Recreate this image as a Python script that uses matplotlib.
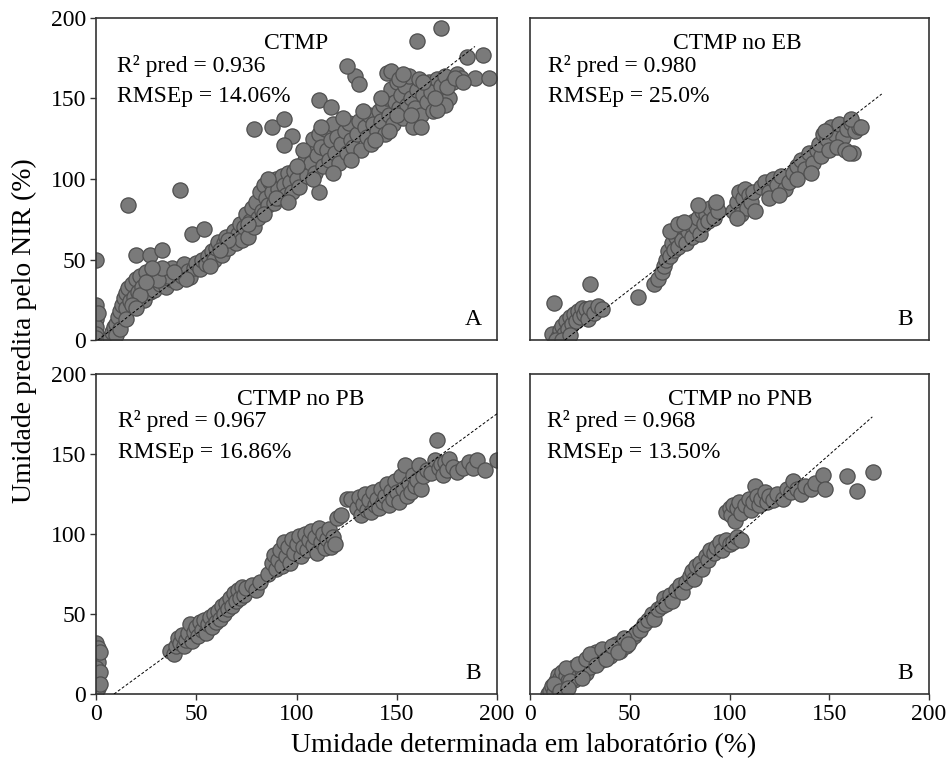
import numpy as np
import matplotlib
matplotlib.use("Agg")
import matplotlib.pyplot as plt

plt.rcParams["font.family"] = ["Liberation Serif", "DejaVu Serif"]

# (lab moisture %, NIR predicted moisture %)
ctmp_points = [
    (0, 50), (0, 22), (0, 13), (0, 8), (0, 4), (0, 1), (1, 17),
    (6, 0), (7, 2), (8, 5), (9, 8), (10, 10), (10, 3), (11, 14), (12, 18), (12, 7),
    (13, 22), (14, 26), (15, 20), (15, 29), (16, 32), (17, 24), (18, 35), (19, 27),
    (20, 38), (21, 30), (22, 40), (23, 33), (24, 25), (25, 42), (26, 36), (27, 30), (28, 38),
    (16, 84), (20, 53), (27, 53), (33, 56), (42, 93), (48, 66), (54, 69),
    (29, 31), (30, 40), (32, 35), (34, 43), (35, 33), (37, 38), (38, 45), (40, 36),
    (41, 42), (43, 40), (44, 47), (46, 43), (47, 39), (49, 45), (50, 48), (52, 44),
    (53, 50), (55, 47), (56, 52), (58, 55), (59, 50), (60, 57), (61, 61), (63, 53),
    (64, 60), (65, 64), (66, 57), (68, 63), (69, 68), (70, 60),
    (71, 66), (72, 72), (73, 62), (74, 70), (75, 78), (76, 64), (77, 74), (78, 82),
    (79, 70), (80, 86), (81, 76), (82, 92), (83, 80), (84, 96), (85, 88), (86, 84),
    (87, 98), (88, 92), (89, 85), (90, 100), (91, 94), (92, 88), (93, 102), (94, 96),
    (95, 90), (96, 104), (97, 98), (98, 92), (99, 105), (100, 100),
    (79, 131), (88, 132), (94, 137), (98, 127), (94, 121), (111, 92),
    (101, 95), (102, 108), (104, 112), (105, 102), (106, 118), (107, 110), (108, 125),
    (109, 104), (110, 115), (111, 128), (112, 120), (113, 108), (114, 131), (115, 118),
    (116, 112), (117, 124), (118, 134), (119, 116), (120, 126), (121, 110), (122, 122),
    (124, 130), (125, 116), (126, 135), (127, 124), (128, 120), (130, 128), (131, 136),
    (132, 118), (134, 132), (135, 126), (136, 140), (137, 122), (138, 134), (140, 130),
    (141, 142), (142, 136), (143, 146), (144, 128), (145, 150), (146, 140), (147, 156),
    (148, 134), (149, 148), (150, 160), (151, 144), (152, 152), (153, 138), (154, 158),
    (155, 146), (156, 164), (157, 150), (158, 132), (159, 144), (160, 155), (161, 162),
    (162, 140), (163, 152), (165, 148), (166, 160), (167, 154), (168, 142), (170, 162),
    (172, 158), (174, 164), (176, 150), (178, 160), (180, 165), (182, 163), (185, 176),
    (189, 163), (193, 177), (196, 163), (160, 186), (172, 194), (145, 166), (147, 167),
    (151, 162), (129, 164), (131, 159), (125, 170), (111, 149), (117, 145),
    (162, 132), (174, 146), (170, 143),
    (103, 118), (108, 100), (112, 132), (118, 104), (123, 138), (127, 112), (133, 142),
    (139, 124), (142, 150), (146, 130), (150, 140), (153, 165), (157, 140), (163, 160),
    (169, 150), (175, 157), (179, 163), (183, 160), (86, 100), (90, 88), (96, 86),
    (100, 108), (84, 78), (76, 72), (66, 62), (62, 56), (57, 46), (45, 38), (36, 40),
    (31, 37), (22, 28), (18, 22), (15, 13), (25, 36), (33, 45), (39, 42), (28, 45), (20, 20),
]

ctmp_eb_points = [
    (12, 23), (11, 4), (30, 35), (54, 27),
    (14, 2), (15, 6), (16, 9), (17, 4), (18, 12), (19, 7), (20, 14), (21, 10),
    (22, 16), (23, 12), (24, 18), (25, 14), (26, 20), (27, 16), (28, 19), (29, 13),
    (30, 20), (32, 17), (34, 21), (36, 19), (13, 0), (16, 0), (20, 3),
    (62, 35), (64, 38), (66, 42), (67, 46), (68, 50), (69, 55), (70, 52), (71, 60),
    (72, 56), (73, 64), (74, 58), (75, 66), (76, 62), (77, 70), (78, 60), (79, 68),
    (80, 72), (81, 64), (82, 74), (83, 70), (84, 76), (85, 66), (86, 80), (87, 72),
    (88, 78), (89, 74), (90, 82), (92, 76), (93, 84), (94, 80), (70, 68), (74, 72),
    (84, 84), (93, 86), (77, 73),
    (102, 80), (104, 86), (105, 92), (106, 78), (107, 88), (108, 94), (109, 82),
    (110, 90), (111, 86), (112, 92), (113, 80), (104, 76),
    (116, 95), (118, 98), (120, 92), (122, 100), (124, 96), (126, 102), (128, 94),
    (130, 98), (120, 88), (125, 90),
    (132, 104), (134, 108), (136, 112), (138, 106), (140, 116), (142, 110), (144, 118),
    (146, 114), (134, 100), (141, 104),
    (145, 122), (147, 128), (149, 125), (151, 132), (153, 128), (155, 134), (157, 126),
    (159, 131), (161, 135), (163, 130), (165, 132), (150, 118), (154, 120), (158, 118),
    (162, 116), (148, 130), (161, 137), (166, 132), (160, 116),
]

ctmp_pb_points = [
    (0, 32), (1, 29), (0, 24), (1, 20), (0, 16), (1, 12), (0, 8), (1, 4), (0, 1),
    (2, 26), (2, 14), (2, 6),
    (37, 27), (39, 25), (40, 30), (41, 35), (42, 32), (43, 37), (44, 30), (45, 34),
    (46, 38), (47, 44), (48, 33), (49, 39), (50, 42), (51, 36), (52, 45), (53, 40),
    (54, 46), (55, 38), (56, 44), (57, 48), (58, 42), (59, 50), (60, 45), (61, 52),
    (62, 47), (63, 55), (64, 50), (65, 57), (66, 53), (67, 60), (68, 55), (69, 63),
    (70, 58), (71, 65), (72, 60), (73, 67), (74, 62), (75, 66), (78, 68), (80, 65),
    (82, 70), (86, 75), (88, 82), (89, 87), (90, 78), (91, 84), (92, 90), (93, 80),
    (94, 95), (95, 86), (96, 92), (97, 82), (98, 97), (99, 88), (100, 94), (101, 99),
    (102, 86), (103, 92), (104, 100), (105, 90), (106, 96), (107, 102), (108, 93),
    (109, 98), (110, 88), (111, 104), (112, 95), (113, 100), (114, 91), (115, 97),
    (116, 103), (117, 92), (118, 98), (119, 94), (120, 110), (122, 112), (125, 122),
    (127, 122), (130, 116), (131, 123), (132, 112), (133, 119), (134, 125), (135, 115),
    (136, 121), (137, 114), (138, 126), (139, 118), (140, 122), (141, 116), (142, 128),
    (143, 120), (144, 124), (145, 131), (146, 118), (147, 127), (148, 122), (149, 133),
    (150, 126), (151, 120), (152, 136), (153, 128), (154, 143), (155, 124), (156, 132),
    (157, 126), (158, 137), (159, 130), (160, 134), (161, 143), (162, 128), (163, 136),
    (165, 140), (167, 138), (169, 146), (170, 159), (171, 141), (172, 144), (173, 137),
    (174, 145), (175, 140), (176, 147), (178, 142), (180, 139), (183, 141), (186, 145),
    (188, 141), (190, 146), (194, 140), (200, 146),
]

ctmp_pnb_points = [
    (9, 0), (10, 2), (11, 5), (12, 1), (13, 8), (14, 4), (14, 12), (15, 10), (16, 6),
    (16, 14), (17, 3), (18, 11), (19, 8), (20, 15), (21, 12), (22, 9), (22, 17),
    (23, 14), (24, 11), (25, 18), (26, 15), (27, 20), (28, 13), (29, 22), (30, 17),
    (31, 24), (32, 20), (33, 26), (34, 22), (35, 25), (36, 21), (38, 27), (40, 24),
    (42, 28), (43, 31), (45, 27), (46, 33), (48, 30), (50, 34), (52, 36), (53, 38),
    (55, 40), (57, 44), (59, 46), (61, 50), (62, 47), (64, 53), (66, 55), (67, 60),
    (68, 56), (70, 62), (71, 58), (73, 65), (75, 68), (76, 64), (78, 70), (80, 74),
    (81, 77), (82, 72), (83, 80), (85, 82), (86, 78), (88, 86), (89, 84), (90, 90),
    (92, 88), (93, 92), (95, 95), (96, 90), (98, 96), (100, 94), (102, 95), (104, 98),
    (106, 96),
    (12, 6), (15, 2), (18, 16), (20, 8), (24, 19), (26, 10), (28, 22), (30, 25),
    (33, 18), (36, 28), (38, 22), (41, 30), (44, 26), (47, 35), (49, 31), (19, 4),
    (98, 114), (100, 116), (101, 112), (102, 118), (103, 108), (104, 116), (105, 120),
    (106, 113), (108, 118), (110, 122), (111, 115), (112, 120), (113, 130), (114, 124),
    (115, 118), (116, 122), (118, 126), (119, 120), (120, 124), (122, 121), (124, 125),
    (127, 122), (129, 128), (131, 126), (132, 133), (134, 128), (136, 125), (138, 130),
    (141, 128), (143, 132), (147, 137), (148, 128), (159, 136), (164, 127), (172, 139),
]

panel_titles = ["CTMP", "CTMP no EB", "CTMP no PB", "CTMP no PNB"]
r2_pred = ["0.936", "0.980", "0.967", "0.968"]
rmsep = ["14.06%", "25.0%", "16.86%", "13.50%"]
panel_letters = ["A", "B", "B", "B"]

# dashed fit line per panel: slope, intercept, x start, x end
fit_slope = [0.97, 0.962, 0.917, 1.095]
fit_intercept = [-1.0, -16.8, -8.25, -14.7]
fit_x_start = [1, 17.5, 9, 13.4]
fit_x_end = [189, 176.3, 210, 171.6]

ticks = [0, 50, 100, 150, 200]

all_points = [ctmp_points, ctmp_eb_points, ctmp_pb_points, ctmp_pnb_points]

# axes rectangles [left, bottom, width, height] in figure fraction
W, H = 946, 766
boxes = [
    [96 / W, 1 - 340 / H, 401 / W, 322 / H],
    [530 / W, 1 - 340 / H, 399 / W, 322 / H],
    [96 / W, 1 - 694 / H, 401 / W, 320 / H],
    [530 / W, 1 - 694 / H, 399 / W, 320 / H],
]
show_y = [True, False, True, False]
show_x = [False, False, True, True]
title_x = [0.5, 0.52, 0.51, 0.526]
stat_x = [0.052, 0.045, 0.055, 0.043]

FS = 17

fig = plt.figure(figsize=(9.46, 7.66), dpi=100)

for i in range(4):
    ax = fig.add_axes(boxes[i])
    pts = np.array(all_points[i], dtype=float)
    ax.scatter(pts[:, 0], pts[:, 1], s=120, facecolor="#7a7a7a",
               edgecolor="#4f4f4f", linewidth=0.9, zorder=2)

    xs = np.array([fit_x_start[i], fit_x_end[i]])
    ax.plot(xs, fit_slope[i] * xs + fit_intercept[i], color="black",
            linestyle=(0, (3, 2)), linewidth=0.7, zorder=3)

    ax.set_xlim(0, 200)
    ax.set_ylim(0, 200)
    ax.set_xticks(ticks)
    ax.set_yticks(ticks)

    ax.tick_params(direction="out", length=4, width=1, labelsize=FS,
                   color="#333333", pad=3)
    if not show_x[i]:
        ax.tick_params(axis="x", bottom=False, labelbottom=False)
    if not show_y[i]:
        ax.tick_params(axis="y", left=False, labelleft=False)

    for sp in ax.spines.values():
        sp.set_color("#333333")
        sp.set_linewidth(1.2)

    ax.text(title_x[i], 0.92, panel_titles[i], transform=ax.transAxes,
            ha="center", va="center", fontsize=FS)
    ax.text(stat_x[i], 0.852, "R² pred = " + r2_pred[i], transform=ax.transAxes,
            ha="left", va="center", fontsize=FS)
    ax.text(stat_x[i], 0.755, "RMSEp = " + rmsep[i], transform=ax.transAxes,
            ha="left", va="center", fontsize=FS)
    ax.text(0.94, 0.065, panel_letters[i], transform=ax.transAxes,
            ha="center", va="center", fontsize=FS)

fig.text(0.026, 0.569, "Umidade predita pelo NIR (%)", rotation=90,
         ha="center", va="center", fontsize=20)
fig.text(0.553, 0.026, "Umidade determinada em laboratório (%)",
         ha="center", va="center", fontsize=20)

fig.savefig("out.png", dpi=100)
